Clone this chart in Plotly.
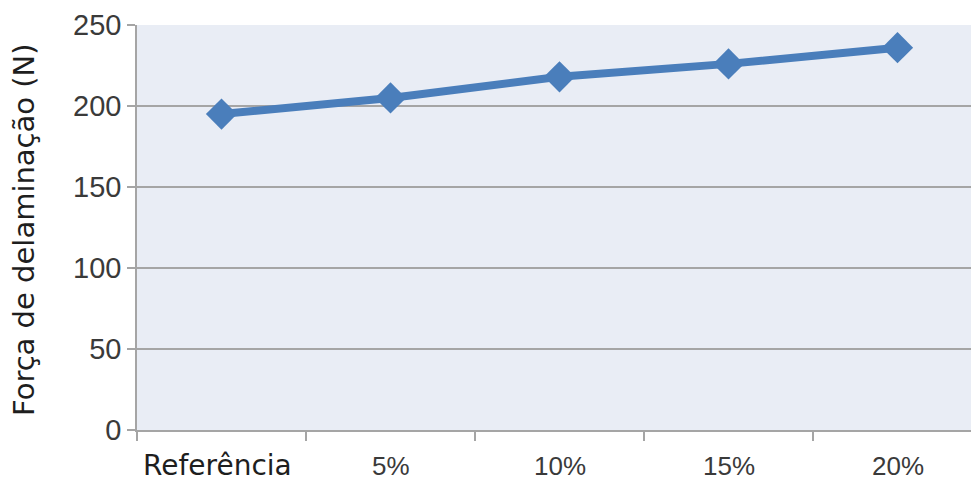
import plotly.graph_objects as go

categories = ["Referência", "5%", "10%", "15%", "20%"]
values = [195, 205, 218, 226, 236]
y_ticks = [0, 50, 100, 150, 200, 250]
y_title = "Força de delaminação (N)"

W, H = 971, 485
ML, MR, MT, MB = 137, 0, 25, 55
pw = W - ML - MR
ph = H - MT - MB

fig = go.Figure()
fig.add_trace(go.Scatter(
    x=categories, y=values, mode="lines+markers",
    line=dict(color="#4A7EBB", width=8),
    marker=dict(symbol="diamond", size=24, color="#4A7EBB"),
    showlegend=False, cliponaxis=False,
))

grid = "#A5A5A5"
fig.update_layout(
    width=W, height=H,
    margin=dict(l=ML, r=MR, t=MT, b=MB, pad=0),
    paper_bgcolor="white", plot_bgcolor="#E9EDF5",
    xaxis=dict(
        type="category", categoryorder="array", categoryarray=categories,
        range=[-0.5, 4.5 - 11 / 169],
        showticklabels=False, showgrid=False, zeroline=False,
        showline=True, linecolor=grid, linewidth=1.5,
        ticks="outside", tickson="boundaries", ticklen=9, tickwidth=1.5, tickcolor=grid,
    ),
    yaxis=dict(
        range=[0, 250], tickvals=y_ticks, ticktext=[str(v) for v in y_ticks],
        showgrid=True, gridcolor=grid, gridwidth=1.5, zeroline=False,
        showline=True, linecolor=grid, linewidth=1.5,
        ticks="outside", ticklen=8, tickwidth=1.5, tickcolor=grid,
        tickfont=dict(family="Liberation Sans", size=29, color="#3A3A3A"),
    ),
    font=dict(family="Liberation Sans"),
)

# y-axis title
fig.add_annotation(
    text=y_title, xref="paper", yref="paper",
    x=(24 - ML) / pw, y=(H - MB - 230) / ph,
    xanchor="center", yanchor="middle", textangle=-90, showarrow=False,
    font=dict(family="DejaVu Sans", size=29, color="#1E1E1E"),
)

# category labels
for i, c in enumerate(categories):
    if i == 0:
        fig.add_annotation(
            text=c, x=c, xref="x", yref="paper", y=(H - MB - 465) / ph,
            xanchor="center", yanchor="middle", showarrow=False,
            xshift=-4,
            font=dict(family="DejaVu Sans", size=28, color="#1E1E1E"),
        )
    else:
        fig.add_annotation(
            text=c, x=c, xref="x", yref="paper", y=(H - MB - 466) / ph,
            xanchor="center", yanchor="middle", showarrow=False,
            font=dict(family="Liberation Sans", size=26, color="#3A3A3A"),
        )

fig.write_html("out.html")
